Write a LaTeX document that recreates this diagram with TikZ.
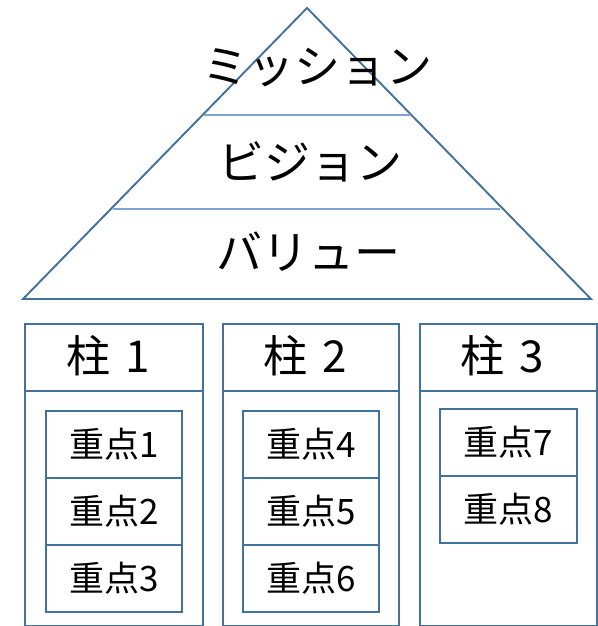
\documentclass[tikz,border=0pt]{standalone}
\usepackage{fontspec}
\setmainfont{Noto Sans CJK JP}
\definecolor{frame}{HTML}{41719C}
\definecolor{thin}{HTML}{7FA3D4}
\begin{document}
\begin{tikzpicture}[x=1pt,y=-1pt,
  edge/.style={draw=frame,line width=1.9pt},
  layerline/.style={draw=thin,line width=1.2pt},
  box/.style={draw=frame,line width=2.2pt,rectangle,inner sep=0pt},
  big/.style={font=\fontsize{46}{50}\selectfont,inner sep=0pt},
  hdr/.style={font=\fontsize{44}{48}\selectfont,inner sep=0pt},
  itm/.style={font=\fontsize{35}{38}\selectfont,inner sep=0pt}]
\useasboundingbox (0,0) rectangle (597,626);
% pyramid
\coordinate (apex) at (307,8);
\coordinate (bl) at (23,299);
\coordinate (br) at (591,299);
\draw[edge,line join=miter] (apex) -- (bl) -- (br) -- cycle;
\coordinate (l1a) at (204,115);
\coordinate (l1b) at (411,115);
\coordinate (l2a) at (113,209);
\coordinate (l2b) at (500,209);
\draw[layerline] (l1a) -- (l1b);
\draw[layerline] (l2a) -- (l2b);
\node[big] (mission) at (317,68) {ミッション};
\node[big] (vision) at (310,162) {ビジョン};
\node[big] (value) at (308,252) {バリュー};
% pillars
\foreach \n/\xa/\xb in {1/24/202,2/222/398,3/419/596}{
  \node[box,minimum width={\xb-\xa},minimum height=67,anchor=north west] (h\n) at (\xa,323) {};
  \node[hdr] (ht\n) at ([xshift=-6pt,yshift=2pt]h\n.center) {柱 \kern5pt\n};
  \node[box,minimum width={\xb-\xa},minimum height=235,anchor=north west] (p\n) at (\xa,390) {};
}
\foreach \k/\xa/\ya/\xb/\yb in {1/45/410/181/477,2/45/477/181/544,3/45/544/181/611,
  4/242/410/378/477,5/242/477/378/544,6/242/544/378/611,
  7/439/408/576/475,8/439/475/576/542}{
  \node[box,minimum width={\xb-\xa},minimum height={\yb-\ya},anchor=north west] (k\k) at (\xa,\ya) {};
  \node[itm] (kt\k) at (k\k.center) {重点\k};
}
\end{tikzpicture}
\end{document}
